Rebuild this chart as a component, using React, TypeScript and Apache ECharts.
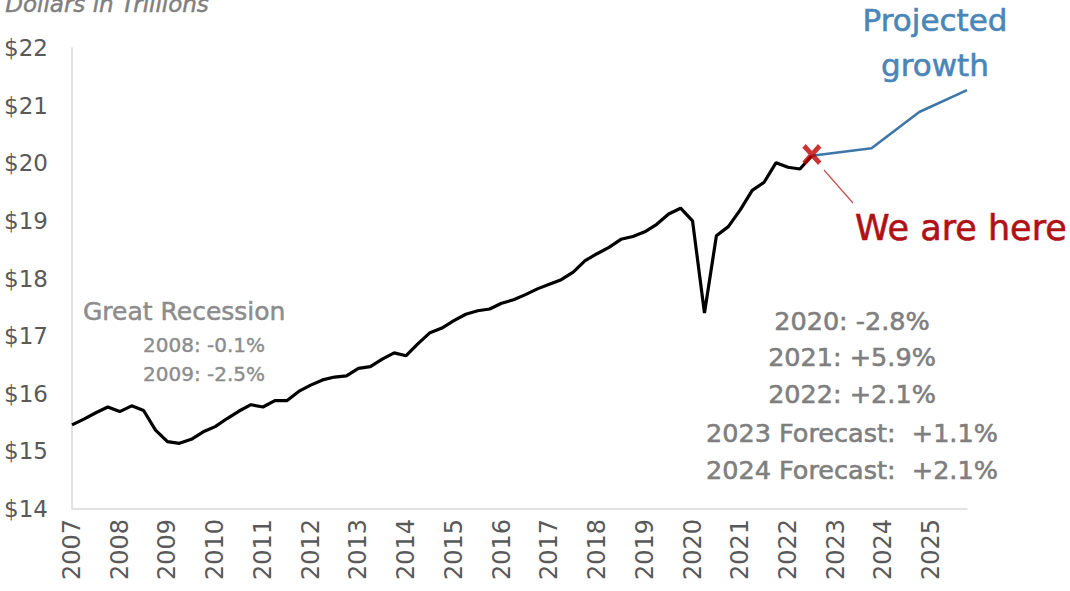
import React, { useEffect, useRef } from "react";
import * as echarts from "echarts";

const years: number[] = [2007, 2008, 2009, 2010, 2011, 2012, 2013, 2014, 2015, 2016, 2017, 2018, 2019, 2020, 2021, 2022, 2023, 2024, 2025];
const quarters: string[] = ["Q1", "Q2", "Q3", "Q4"];
const categories: string[] = years.flatMap((y) => quarters.map((q) => `${y}${q}`));

// Real GDP, trillions of dollars, quarterly from 2007Q1 to 2022Q3
const actualValues: number[] = [
  15.46, 15.56, 15.67, 15.77, 15.69, 15.79, 15.71, 15.37,
  15.17, 15.14, 15.21, 15.34, 15.43, 15.57, 15.70, 15.81,
  15.77, 15.88, 15.88, 16.04, 16.15, 16.24, 16.29, 16.31,
  16.44, 16.47, 16.60, 16.71, 16.66, 16.87, 17.06, 17.14,
  17.27, 17.38, 17.44, 17.47, 17.57, 17.63, 17.72, 17.82,
  17.90, 17.98, 18.11, 18.31, 18.43, 18.54, 18.68, 18.73,
  18.81, 18.94, 19.12, 19.22, 19.00, 17.40, 18.74, 18.90,
  19.19, 19.53, 19.67, 20.01, 19.93, 19.90, 20.13,
];

const projectedQuarters: string[] = ["2022Q3", "2023Q4", "2024Q4", "2025Q4"];
const projectedValues: number[] = [20.13, 20.26, 20.89, 21.27];

const hereQuarter = "2022Q3";
const hereValue = 20.15;

const yTicks = { min: 14, max: 22, interval: 1 };

const rightNotes: string[] = [
  "2020: -2.8%",
  "2021: +5.9%",
  "2022: +2.1%",
  "2023 Forecast:  +1.1%",
  "2024 Forecast:  +2.1%",
];
const recessionNotes: string[] = ["2008: -0.1%", "2009: -2.5%"];

const FONT = "DejaVu Sans";
const X_PATH =
  "path://M0,3.5 L3.5,0 L10,6.5 L16.5,0 L20,3.5 L13.5,10 L20,16.5 L16.5,20 L10,13.5 L3.5,20 L0,16.5 L6.5,10 Z";

export default function App() {
  const ref = useRef<HTMLDivElement>(null);

  useEffect(() => {
    if (!ref.current) return;
    const chart = echarts.init(ref.current, undefined, { renderer: "svg" });
    const rightY = [321, 357, 394, 433, 470];
    const recY = [345, 374];
    const grayNote = (fill: string, size: number, sw: number) => ({
      fontFamily: FONT,
      fontSize: size,
      fill,
      stroke: fill,
      lineWidth: sw,
      textVerticalAlign: "middle",
    });
    chart.setOption({
      animation: false,
      backgroundColor: "#ffffff",
      grid: { left: 72, right: 103, top: 48, bottom: 82 },
      xAxis: {
        type: "category",
        data: categories,
        boundaryGap: false,
        axisLine: { show: true, lineStyle: { color: "#d9d9d9", width: 1.5 } },
        axisTick: { show: false },
        splitLine: { show: false },
        axisLabel: {
          interval: 3,
          rotate: 90,
          margin: 10,
          color: "#595959",
          fontFamily: FONT,
          fontSize: 24,
          formatter: (v: string) => v.slice(0, 4),
        },
      },
      yAxis: {
        type: "value",
        min: yTicks.min,
        max: yTicks.max,
        interval: yTicks.interval,
        axisLine: { show: true, lineStyle: { color: "#d9d9d9", width: 1.5 } },
        axisTick: { show: false },
        splitLine: { show: false },
        axisLabel: {
          color: "#595959",
          fontFamily: FONT,
          fontSize: 23,
          margin: 24,
          formatter: (v: number) => `$${v}`,
        },
      },
      series: [
        {
          type: "line",
          name: "Actual",
          data: actualValues,
          showSymbol: false,
          lineStyle: { color: "#000000", width: 3.2 },
          z: 3,
        },
        {
          type: "line",
          name: "Projected",
          data: projectedQuarters.map((q, i) => [q, projectedValues[i]]),
          showSymbol: false,
          lineStyle: { color: "#3d77a8", width: 2.6 },
          z: 2,
        },
        {
          type: "scatter",
          name: "We are here",
          data: [[hereQuarter, hereValue]],
          symbol: X_PATH,
          symbolSize: [19, 21],
          itemStyle: { color: "#c00000" },
          z: 5,
        },
      ],
      graphic: [
        {
          type: "text",
          left: 5,
          top: -8,
          style: {
            text: "Dollars in Trillions",
            fontFamily: FONT,
            fontStyle: "italic",
            fontSize: 23,
            fill: "#7f7f7f",
            stroke: "#7f7f7f",
            lineWidth: 0.5,
          },
        },
        {
          type: "text",
          x: 935,
          y: 20,
          style: { ...grayNote("#4a86b8", 31, 0.6), text: "Projected", textAlign: "center" },
        },
        {
          type: "text",
          x: 935,
          y: 65,
          style: { ...grayNote("#4a86b8", 31, 0.6), text: "growth", textAlign: "center" },
        },
        {
          type: "line",
          shape: { x1: 824, y1: 170, x2: 853, y2: 203 },
          style: { stroke: "#c0504d", lineWidth: 1.2 },
        },
        {
          type: "text",
          x: 855,
          y: 228,
          style: { ...grayNote("#b01116", 35, 0.6), text: "We are here", textAlign: "left" },
        },
        {
          type: "text",
          x: 83,
          y: 311,
          style: { ...grayNote("#8c8c8c", 25, 0.5), text: "Great Recession", textAlign: "left" },
        },
        ...recessionNotes.map((t, i) => ({
          type: "text",
          x: 143,
          y: recY[i],
          style: { ...grayNote("#8c8c8c", 20, 0.4), text: t, textAlign: "left" },
        })),
        ...rightNotes.map((t, i) => ({
          type: "text",
          x: 852,
          y: rightY[i],
          style: { ...grayNote("#7f7f7f", 25.5, 0.6), text: t, textAlign: "center" },
        })),
      ],
    });
    return () => chart.dispose();
  }, []);

  return (
    <div
      ref={ref}
      style={{ position: "absolute", left: 0, top: 0, width: 1070, height: 591 }}
    />
  );
}
